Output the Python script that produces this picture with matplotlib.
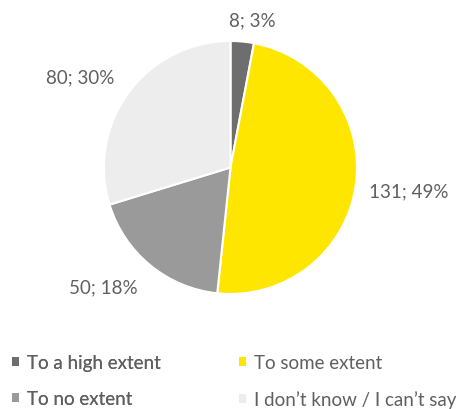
import matplotlib.pyplot as plt
from matplotlib.patches import Patch

categories = ['To a high extent', 'To some extent', 'To no extent', "I don\u2019t know / I can\u2019t say"]
counts = [8, 131, 50, 80]
percents = [3, 49, 18, 30]
colors = ['#6e6e6e', '#ffe600', '#9a9a9a', '#ededed']

# where each data label sits, in pie-radius units
label_pos = [(0.17, 1.166), (1.41, -0.186), (-1.008, -0.945), (-1.19, 0.715)]

plt.rcParams['font.family'] = ['Lato', 'DejaVu Sans']
text_color = '#5f5f5f'
fsize = 13.5

fig = plt.figure(figsize=(4.61, 4.10), dpi=100)
ax = fig.add_axes([104 / 461, 115 / 410, 253 / 461, 253 / 410])
ax.pie(counts, colors=colors, startangle=90, counterclock=False,
       wedgeprops={'edgecolor': 'white', 'linewidth': 1.5}, radius=1)
ax.set_xlim(-1, 1)
ax.set_ylim(-1, 1)
ax.set_aspect('equal')

for (x, y), c, p in zip(label_pos, counts, percents):
    ax.text(x, y, f'{c}; {p}%', ha='center', va='center', fontsize=fsize,
            color=text_color, clip_on=False)

handles = [Patch(facecolor=col, edgecolor='none') for col in colors]
leg_kw = dict(loc='upper left', frameon=False, fontsize=fsize, labelcolor=text_color,
              handlelength=0.37, handleheight=0.37, handletextpad=0.45,
              labelspacing=1.02, borderpad=0, borderaxespad=0)
leg1 = fig.legend([handles[0], handles[2]], [categories[0], categories[2]],
                  bbox_to_anchor=(12 / 461, 0.134), **leg_kw)
fig.add_artist(leg1)
fig.legend([handles[1], handles[3]], [categories[1], categories[3]],
           bbox_to_anchor=(239 / 461, 0.134), **leg_kw)

fig.savefig('out.png', dpi=100)
